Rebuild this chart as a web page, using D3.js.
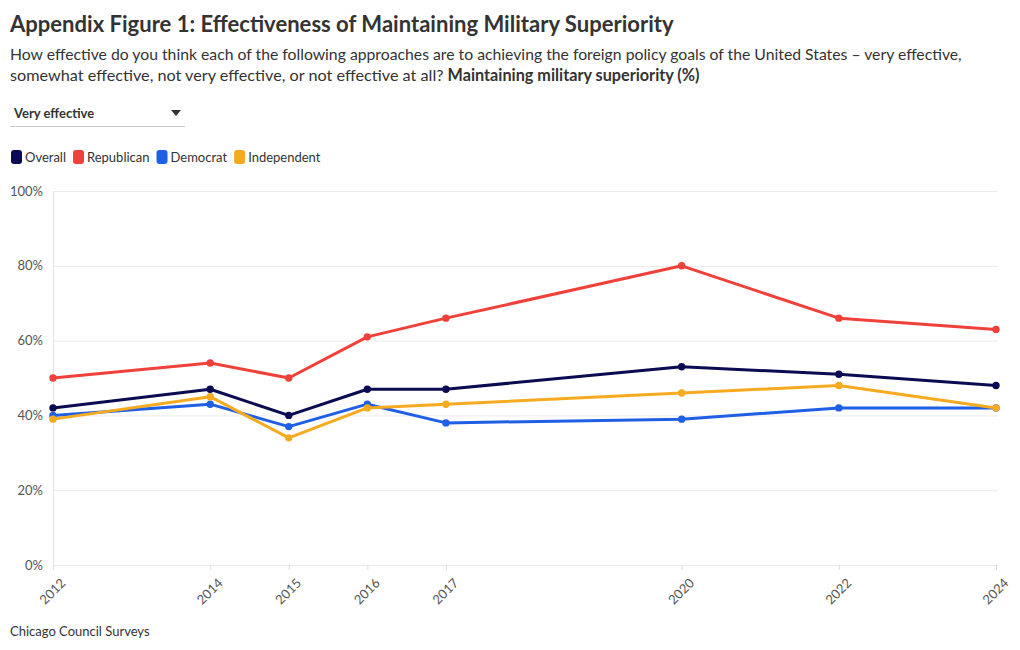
<!DOCTYPE html>
<html>
<head>
<meta charset="utf-8">
<script src="https://cdn.jsdelivr.net/npm/d3@7"></script>
<style>
  body { margin: 0; background: #fff; }
  svg { display: block; font-family: Lato, "Open Sans", sans-serif; }
</style>
</head>
<body>
<svg id="chart" width="1020" height="650"></svg>
<script>
const years = [2012, 2014, 2015, 2016, 2017, 2020, 2022, 2024];
const seriesNames = ["Overall", "Republican", "Democrat", "Independent"];
const seriesColors = ["#0b0b52", "#f0403a", "#1f5fe5", "#f6aa1f"];
const overall = [42, 47, 40, 47, 47, 53, 51, 48];
const republican = [50, 54, 50, 61, 66, 80, 66, 63];
const democrat = [40, 43, 37, 43, 38, 39, 42, 42];
const independent = [39, 45, 34, 42, 43, 46, 48, 42];
const yTicks = [0, 20, 40, 60, 80, 100];

const titleText = "Appendix Figure 1: Effectiveness of Maintaining Military Superiority";
const subLine1 = "How effective do you think each of the following approaches are to achieving the foreign policy goals of the United States \u2013 very effective,";
const subLine2a = "somewhat effective, not very effective, or not effective at all? ";
const subLine2b = "Maintaining military superiority (%)";
const dropdownText = "Very effective";
const sourceText = "Chicago Council Surveys";

const seriesValues = [overall, republican, democrat, independent];

const svg = d3.select("#chart");
const textColor = "#333";

// fit a text's font size so its width matches a target
function fitSize(sel, target, base) {
  const w = sel.node().getComputedTextLength();
  sel.attr("font-size", base * target / w);
}

// Title
const title = svg.append("text").attr("x", 10).attr("y", 32)
  .attr("font-size", 24).attr("font-weight", 700).attr("fill", textColor)
  .text(titleText);
fitSize(title, 664, 24);

// Subtitle
const s1 = svg.append("text").attr("x", 10).attr("y", 60)
  .attr("font-size", 17).attr("fill", textColor)
  .text(subLine1);
fitSize(s1, 952, 17);
const s2 = svg.append("text").attr("x", 10).attr("y", 81)
  .attr("font-size", 17).attr("fill", textColor);
s2.append("tspan").text(subLine2a);
s2.append("tspan").attr("font-weight", 700).text(subLine2b);
fitSize(s2, 690, 17);

// Dropdown
svg.append("text").attr("x", 14).attr("y", 118)
  .attr("font-size", 13).attr("font-weight", 700).attr("fill", textColor)
  .text(dropdownText);
svg.append("path").attr("d", "M171,110 L181,110 L176,116 Z").attr("fill", "#333");
svg.append("line").attr("x1", 10).attr("x2", 185).attr("y1", 126.5).attr("y2", 126.5)
  .attr("stroke", "#ccc").attr("stroke-width", 1);

// Legend
const legend = svg.append("g").attr("transform", "translate(11,150)");
let lx = 0;
seriesNames.forEach((name, i) => {
  const g = legend.append("g").attr("transform", `translate(${lx},0)`);
  g.append("rect").attr("width", 11).attr("height", 14).attr("rx", 3).attr("fill", seriesColors[i]);
  const t = g.append("text").attr("x", 14).attr("y", 12).attr("font-size", 13)
    .attr("fill", textColor).text(name);
  lx += 14 + t.node().getComputedTextLength() + 7;
});

// Scales
const margin = { left: 53, right: 996, top: 191, bottom: 565 };
const x = d3.scaleLinear().domain([2012, 2024]).range([margin.left, margin.right]);
const y = d3.scaleLinear().domain([0, 100]).range([margin.bottom, margin.top]);

// Gridlines
svg.append("g").selectAll("line").data(yTicks).join("line")
  .attr("x1", margin.left).attr("x2", 998)
  .attr("y1", d => y(d) + 0.5).attr("y2", d => y(d) + 0.5)
  .attr("stroke", "#ebebeb").attr("stroke-width", 1);
svg.append("line").attr("x1", margin.left + 0.5).attr("x2", margin.left + 0.5)
  .attr("y1", margin.top).attr("y2", margin.bottom)
  .attr("stroke", "#e3e3e3");

// Y axis
const yAxis = svg.append("g").attr("transform", `translate(${margin.left},0)`)
  .call(d3.axisLeft(y).tickValues(yTicks).tickFormat(d => d + "%").tickSize(0).tickPadding(10));
yAxis.select(".domain").remove();
yAxis.selectAll("text").attr("font-size", 13).attr("fill", "#555")
  .attr("font-family", "Lato, 'Open Sans', sans-serif");

// X axis
const xAxis = svg.append("g").attr("transform", `translate(0,${margin.bottom})`)
  .call(d3.axisBottom(x).tickValues(years).tickFormat(d3.format("d")).tickSize(5).tickPadding(3));
xAxis.select(".domain").remove();
xAxis.selectAll(".tick line").attr("stroke", "#ddd");
xAxis.selectAll("text").attr("font-size", 13).attr("fill", "#555")
  .attr("font-family", "Lato, 'Open Sans', sans-serif")
  .attr("text-anchor", "end")
  .attr("dy", "0.35em")
  .attr("transform", "translate(4,10) rotate(-45)");

// Lines
const line = d3.line().x((d, i) => x(years[i])).y(d => y(d));
seriesValues.forEach((vals, i) => {
  const g = svg.append("g");
  g.append("path").datum(vals).attr("d", line).attr("fill", "none")
    .attr("stroke", seriesColors[i]).attr("stroke-width", 3)
    .attr("stroke-linejoin", "round");
  g.selectAll("circle").data(vals).join("circle")
    .attr("cx", (d, j) => x(years[j])).attr("cy", d => y(d)).attr("r", 3.7)
    .attr("fill", seriesColors[i]);
});

// Source
svg.append("text").attr("x", 10).attr("y", 636)
  .attr("font-size", 13).attr("fill", textColor).text(sourceText);
</script>
</body>
</html>
